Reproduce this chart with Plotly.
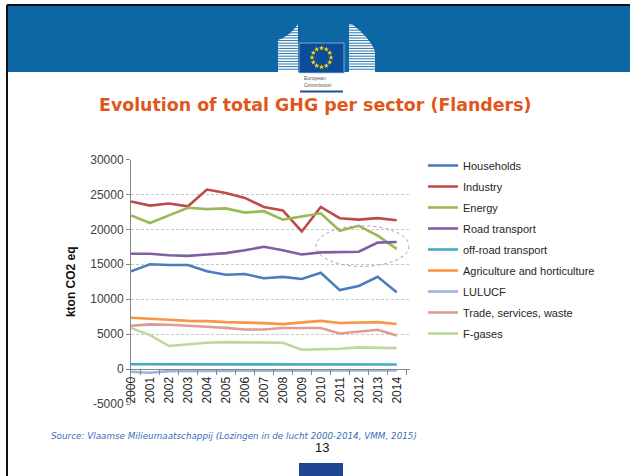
import plotly.graph_objects as go
import numpy as np

W, H = 630, 476

years = [str(y) for y in range(2000, 2015)]

households = [14000, 15000, 14900, 14900, 14000, 13500, 13600, 13000, 13200, 12900, 13800, 11300, 11900, 13200, 11000]
industry = [24000, 23400, 23700, 23300, 25700, 25200, 24500, 23200, 22700, 19700, 23200, 21600, 21400, 21600, 21300]
energy = [22000, 20900, 22000, 23100, 22900, 23000, 22400, 22600, 21400, 21800, 22300, 19800, 20500, 19100, 17200]
road_transport = [16500, 16500, 16300, 16200, 16400, 16600, 17000, 17500, 17000, 16400, 16700, 16700, 16800, 18100, 18200]
offroad_transport = [700, 700, 700, 700, 700, 700, 700, 750, 750, 750, 750, 750, 750, 650, 650]
agriculture = [7350, 7250, 7050, 6900, 6870, 6720, 6680, 6580, 6440, 6700, 6900, 6600, 6700, 6720, 6440]
lulucf = [-380, -520, -300, -280, -250, -230, -220, -200, -200, -200, -200, -140, -180, -200, -200]
trade = [6200, 6400, 6350, 6150, 6050, 5900, 5670, 5670, 5870, 5870, 5870, 5100, 5350, 5630, 4800]
fgases = [5900, 4860, 3300, 3500, 3770, 3860, 3800, 3770, 3770, 2770, 2800, 2900, 3100, 3000, 3000]

sector_names = ["Households", "Industry", "Energy", "Road transport", "off-road transport",
                "Agriculture and horticulture", "LULUCF", "Trade, services, waste", "F-gases"]
sector_values = [households, industry, energy, road_transport, offroad_transport,
                 agriculture, lulucf, trade, fgases]
colors = ['#4A7EBB', '#BE4B48', '#98B954', '#7D60A0', '#46AAC5',
          '#F79646', '#9DB3E0', '#E09A98', '#BDD89A']

y_min, y_max = -5000, 30000
y_ticks = list(range(y_min, y_max + 1, 5000))

# plot area in pixels
left, right, top, bottom = 131, 409.5, 159.5, 404

fig = go.Figure()

for i, (name, vals) in enumerate(zip(sector_names, sector_values)):
    fig.add_trace(go.Scatter(
        x=years, y=vals, name=name, mode='lines',
        line=dict(color=colors[i], width=2.6),
        legendgroup=name,
    ))

# stars of the EU flag on a pixel canvas overlay
ang = np.linspace(0, 2 * np.pi, 12, endpoint=False)
fig.add_trace(go.Scatter(
    x=321.5 + 9.5 * np.sin(ang), y=57.5 - 9.5 * np.cos(ang),
    mode='markers', marker=dict(symbol='star', size=4, color='#FFE000'),
    xaxis='x2', yaxis='y2', showlegend=False, hoverinfo='skip',
))

yd0, yd1 = 1 - bottom / H, 1 - top / H

shapes = []


def rect(x0, y0, x1, y1, color, layer='below'):
    shapes.append(dict(type='rect', xref='x2', yref='y2', x0=x0, y0=y0, x1=x1, y1=y1,
                       fillcolor=color, line=dict(width=0), layer=layer))


def line(x0, y0, x1, y1, color, width=1):
    shapes.append(dict(type='line', xref='x2', yref='y2', x0=x0, y0=y0, x1=x1, y1=y1,
                       line=dict(color=color, width=width), layer='above'))


# header band and frame
rect(7, 5, W, 72, '#0E67A5')
line(7, 5, W, 5, '#111111', 2)
line(7, 5, 7, H, '#111111', 2)

# flag (below so the stars sit on top of it)
shapes.append(dict(type='rect', xref='x2', yref='y2', x0=299, y0=43, x1=344, y1=73,
                   fillcolor='#0D4C98', line=dict(color='#7FA8D8', width=1), layer='below'))

# buildings of the logo
shapes.append(dict(type='path', xref='x2', yref='y2',
                   path='M278,40 Q290,36 298,24 L298,72 L278,72 Z',
                   fillcolor='white', line=dict(width=0), layer='above'))
shapes.append(dict(type='path', xref='x2', yref='y2',
                   path='M349,24 L352,24 Q372,40 375,52 L375,72 L349,72 Z',
                   fillcolor='white', line=dict(width=0), layer='above'))
for k in range(18):
    yy = 25 + k * 2.6
    line(277, yy, 298.5, yy, '#0E67A5', 0.9)
    line(348, yy, 376, yy, '#0E67A5', 0.9)

# name box under the flag
rect(299, 73.5, 344, 93, 'white', 'above')
rect(300, 90.5, 343, 92.5, '#1F4E96', 'above')

# bottom logo block
rect(299, 463, 343, H, '#1F4690')

# highlight ellipse
shapes.append(dict(type='circle', xref='x', yref='y', x0=9.75, x1=14.65, y0=14700, y1=20500,
                   line=dict(color='#B48AD8', width=1, dash='dot'), layer='above'))

annotations = [
    dict(xref='x2', yref='y2', x=315, y=105, text='Evolution of total GHG per sector (Flanders)',
         showarrow=False, xanchor='center', yanchor='middle',
         font=dict(family='DejaVu Sans', size=17.4, color='#E2561C', weight='bold')),
    dict(xref='x2', yref='y2', x=49, y=436,
         text='Source: Vlaamse Milieumaatschappij (Lozingen in de lucht 2000-2014, VMM, 2015)',
         showarrow=False, xanchor='left', yanchor='middle',
         font=dict(family='DejaVu Sans', size=8.8, color='#3A6FB7', style='italic')),
    dict(xref='x2', yref='y2', x=322, y=447.5, text='13', showarrow=False,
         xanchor='center', yanchor='middle',
         font=dict(family='Liberation Sans', size=13, color='#111111')),
    dict(xref='x2', yref='y2', x=302, y=77.5, text='European', showarrow=False,
         xanchor='left', yanchor='middle', font=dict(family='Liberation Sans', size=5, color='#555555')),
    dict(xref='x2', yref='y2', x=302, y=84.5, text='Commission', showarrow=False,
         xanchor='left', yanchor='middle', font=dict(family='Liberation Sans', size=5, color='#555555')),
]

fig.update_layout(
    width=W, height=H, autosize=False,
    margin=dict(l=0, r=0, t=0, b=0, pad=0),
    paper_bgcolor='white', plot_bgcolor='rgba(0,0,0,0)',
    font=dict(family='Liberation Sans', size=12, color='#404040'),
    shapes=shapes, annotations=annotations,
    showlegend=True,
    legend=dict(x=423 / W, y=1 - 151 / H, xanchor='left', yanchor='top',
                font=dict(family='Liberation Sans', size=11, color='#262626'),
                tracegroupgap=2, bgcolor='rgba(0,0,0,0)'),
    xaxis=dict(
        domain=[left / W, right / W], anchor='free', automargin=False,
        position=yd0 + (0 - y_min) / (y_max - y_min) * (yd1 - yd0),
        type='category', tickangle=-90, tickson='boundaries',
        ticks='outside', ticklen=5, tickcolor='#868686', ticklabelstandoff=2,
        showline=True, linecolor='#868686', linewidth=1,
        showgrid=False, zeroline=False,
        tickfont=dict(size=12, color='#262626'),
    ),
    yaxis=dict(
        domain=[yd0, yd1], anchor='x', automargin=False,
        range=[y_min, y_max], tickvals=y_ticks, ticktext=[str(v) for v in y_ticks],
        ticks='outside', ticklen=4, tickcolor='#868686',
        showline=True, linecolor='#868686', linewidth=1,
        showgrid=True, gridcolor='#C8C8C8', griddash='3px,2px', gridwidth=1,
        zeroline=False, tickfont=dict(size=12, color='#404040'),
        title=dict(text='<b>kton CO2 eq</b>', standoff=12,
                   font=dict(size=12, color='#111111')),
    ),
    xaxis2=dict(domain=[0, 1], range=[0, W], visible=False, anchor='y2',
                fixedrange=True, automargin=False),
    yaxis2=dict(domain=[0, 1], range=[H, 0], visible=False, anchor='x2',
                fixedrange=True, automargin=False),
)

# the page's default body margin would push the slide 8px off the window
fig.write_html("out.html", config={'displayModeBar': False},
               post_script="document.body.style.margin='0';")
